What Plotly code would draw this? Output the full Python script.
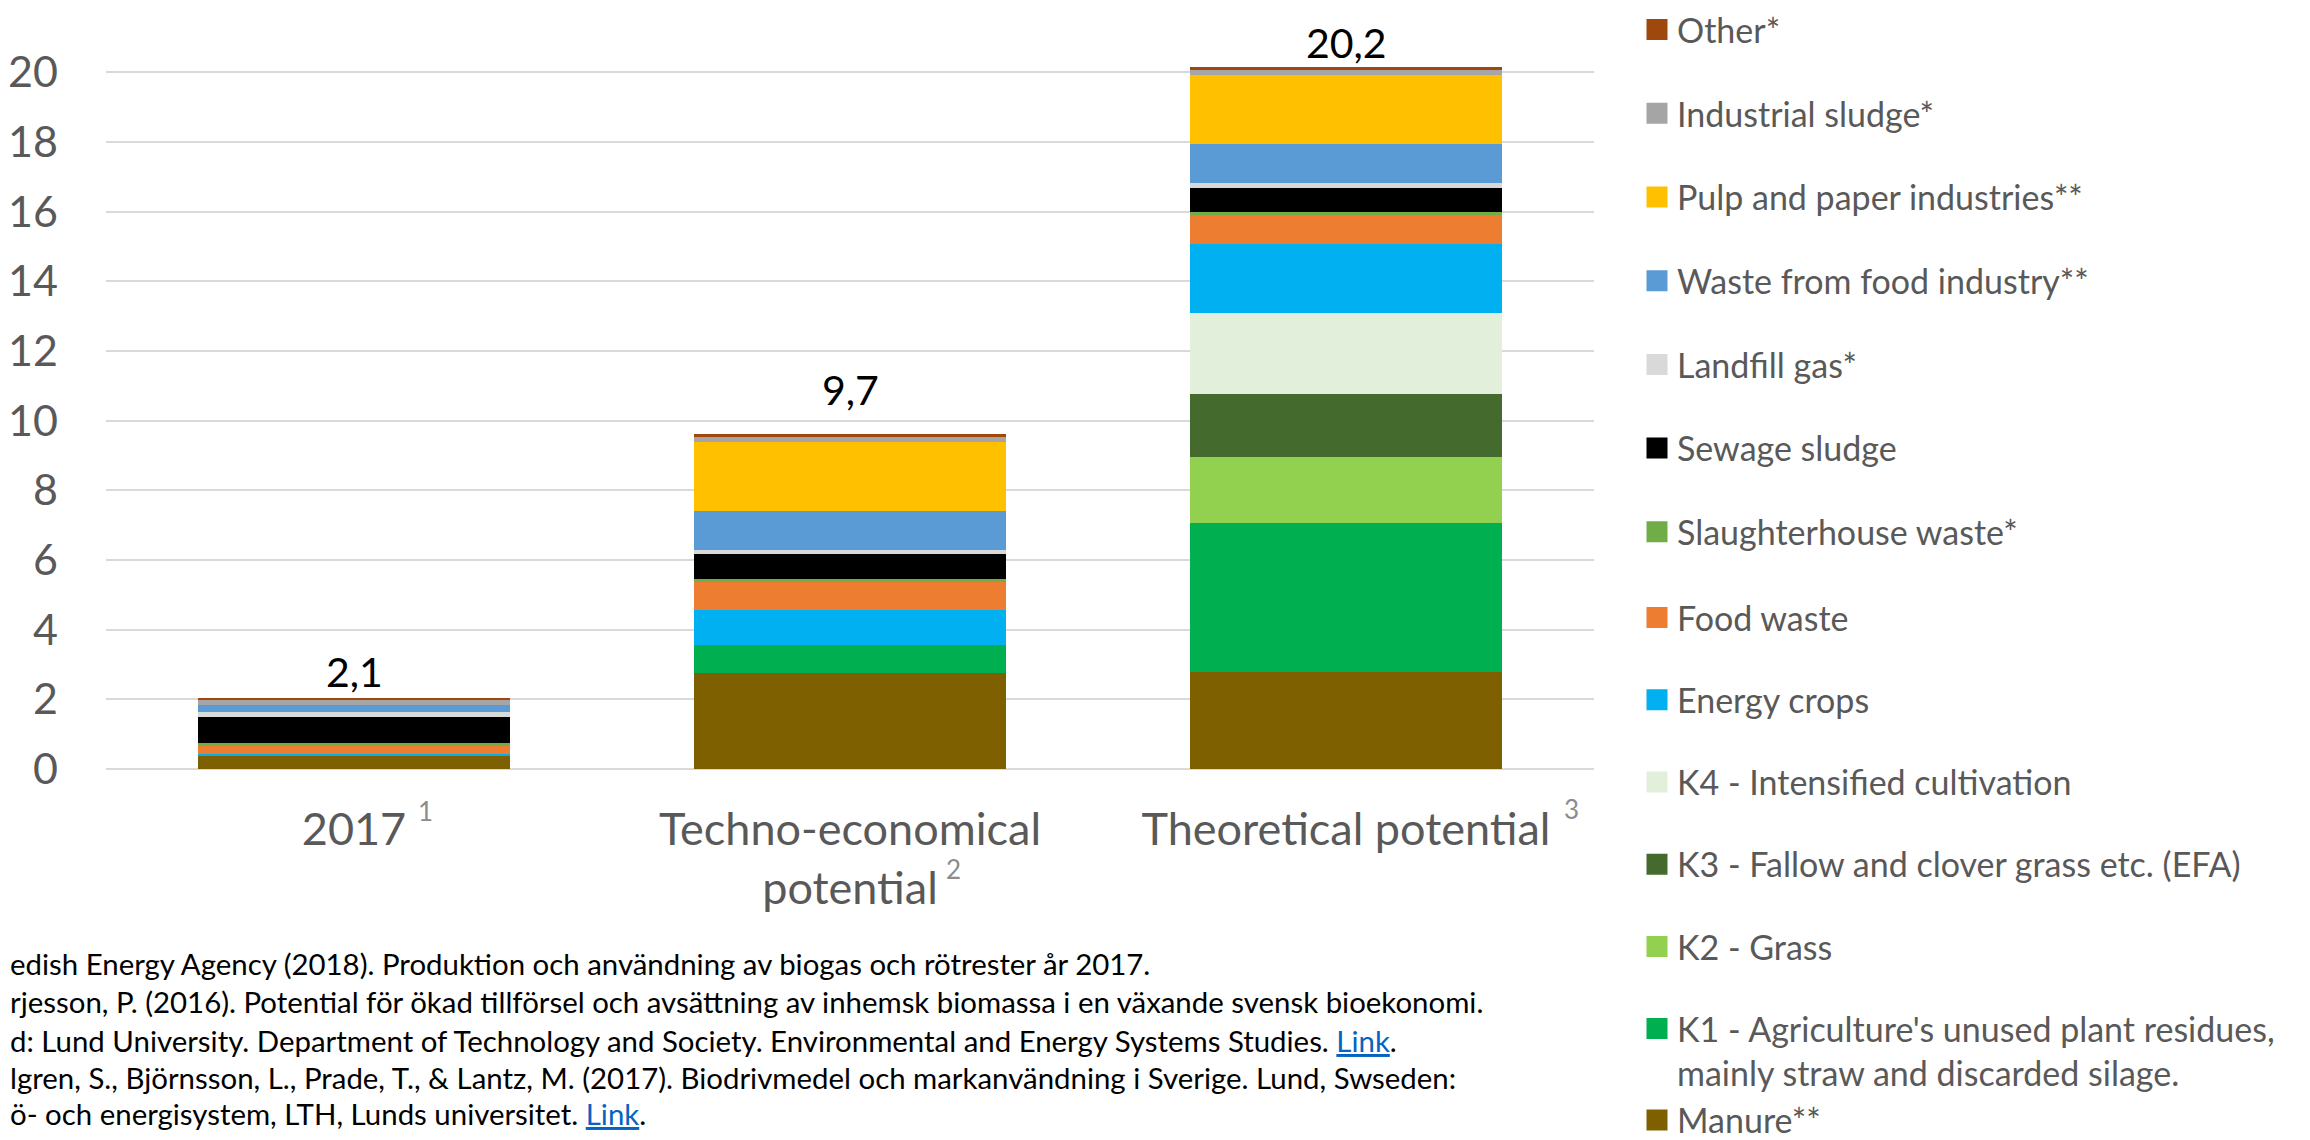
import plotly.graph_objects as go

# ---------------- data ----------------
categories = ["2017", "Techno-economical potential", "Theoretical potential"]
category_ticktext = ["2017", "Techno-economical<br>potential", "Theoretical potential"]
category_refs = ["1", "2", "3"]
total_labels = ["2,1", "9,7", "20,2"]

# stack order: bottom -> top
manure            = [0.38, 2.76, 2.78]
k1_residues       = [0.00, 0.80, 4.28]
k2_grass          = [0.00, 0.00, 1.89]
k3_fallow         = [0.00, 0.00, 1.81]
k4_intensified    = [0.00, 0.00, 2.32]
energy_crops      = [0.04, 1.00, 1.99]
food_waste        = [0.23, 0.81, 0.82]
slaughterhouse    = [0.11, 0.09, 0.10]
sewage_sludge     = [0.72, 0.70, 0.69]
landfill_gas      = [0.16, 0.14, 0.15]
food_industry     = [0.19, 1.10, 1.10]
pulp_paper        = [0.00, 2.00, 2.00]
industrial_sludge = [0.14, 0.13, 0.13]
other             = [0.07, 0.09, 0.09]

series_names = [
    "Manure**",
    "K1 - Agriculture's unused plant residues,<br>mainly straw and discarded silage.",
    "K2 - Grass",
    "K3 - Fallow and clover grass etc. (EFA)",
    "K4 - Intensified cultivation",
    "Energy crops",
    "Food waste",
    "Slaughterhouse waste*",
    "Sewage sludge",
    "Landfill gas*",
    "Waste from food industry**",
    "Pulp and paper industries**",
    "Industrial sludge*",
    "Other*",
]
series_values = [manure, k1_residues, k2_grass, k3_fallow, k4_intensified,
                 energy_crops, food_waste, slaughterhouse, sewage_sludge,
                 landfill_gas, food_industry, pulp_paper, industrial_sludge, other]
series_colors = ["#7F6000", "#00B050", "#92D050", "#456A2D", "#E2EFDA",
                 "#00B0F0", "#ED7D31", "#70AD47", "#000000", "#D9D9D9",
                 "#5B9BD5", "#FFC000", "#A5A5A5", "#9E480E"]

# footnotes, as far as they are visible in the picture (cut at the left edge)
footnote_lines = [
    "edish Energy Agency (2018). Produktion och användning av biogas och rötrester år 2017.",
    "rjesson, P. (2016). Potential för ökad tillförsel och avsättning av inhemsk biomassa i en växande svensk bioekonomi.",
    "d: Lund University. Department of Technology and Society. Environmental and Energy Systems Studies. "
    "<span style='color:#0563C1'><u>Link</u></span>.",
    "lgren, S., Björnsson, L., Prade, T., & Lantz, M. (2017). Biodrivmedel och markanvändning i Sverige. Lund, Swseden:",
    "ö- och energisystem, LTH, Lunds universitet. <span style='color:#0563C1'><u>Link</u></span>.",
]

FONT = "Lato"
GREY = "#595959"
OFF = 8                      # page body margin of the browser
W, H = 2310 - OFF, 1140 - OFF
ML, MR = 106 - OFF, 716
PW = W - ML - MR


def sx(px):
    """paper x from a screen pixel x"""
    return (px - OFF - ML) / PW


def sy(py):
    """paper y from a screen pixel y"""
    return (H - (py - OFF)) / H


fig = go.Figure()

# bars, bottom -> top
for i, (name, vals, col) in enumerate(zip(series_names, series_values, series_colors)):
    fig.add_trace(go.Bar(
        x=categories, y=vals, name=name, marker=dict(color=col, line=dict(width=0)),
        legendgroup="g%d" % (0 if i == 1 else i), showlegend=False, hoverinfo="skip",
    ))

# legend entries, top -> bottom (two stacked legend boxes)
for i in range(len(series_names) - 1, -1, -1):
    col = series_colors[i]
    fig.add_trace(go.Scatter(
        x=[None], y=[None], mode="markers", name=series_names[i],
        legendgroup="g%d" % (0 if i == 1 else i),
        legend="legend" if i >= 7 else "legend2",
        marker=dict(symbol="square", size=16, color=col, line=dict(color=col, width=5)),
        showlegend=True, hoverinfo="skip",
    ))

# totals above the bars
totals = [sum(v[i] for v in series_values) for i in range(len(categories))]
label_shift = [26, 44, 25]
for idx, (tot, lab, sh) in enumerate(zip(totals, total_labels, label_shift)):
    fig.add_annotation(
        x=idx, y=tot, xref="x", yref="y", text=lab, showarrow=False,
        yanchor="middle", yshift=sh,
        font=dict(family=FONT, size=41, color="#000000"),
    )

# reference numbers next to the category labels
ref_xshift = [71, 103, 225]
ref_py = [811, 869, 809]
for idx, (txt, xs, py) in enumerate(zip(category_refs, ref_xshift, ref_py)):
    fig.add_annotation(
        x=idx, xref="x", y=sy(py), yref="paper", text=txt, showarrow=False,
        xanchor="center", yanchor="middle", xshift=xs,
        font=dict(family=FONT, size=26, color="#8c8c8c"),
    )

legend_common = dict(
    xanchor="left", traceorder="grouped", valign="top",
    font=dict(family=FONT, size=34, color=GREY),
    bgcolor="rgba(0,0,0,0)", borderwidth=0,
)
fig.update_layout(
    width=W, height=H,
    barmode="stack", bargap=0.37,
    plot_bgcolor="white", paper_bgcolor="white",
    margin=dict(l=ML, r=MR, t=0, b=0, autoexpand=False),
    font=dict(family=FONT, color=GREY),
    showlegend=True,
    legend=dict(x=sx(1637), y=sy(561), yanchor="bottom", tracegroupgap=36.5, **legend_common),
    legend2=dict(x=sx(1637), y=sy(589), yanchor="top", tracegroupgap=35, **legend_common),
)

fig.update_yaxes(
    domain=[sy(769), sy(20)],
    range=[0, 21.5], dtick=2, tick0=0,
    showgrid=True, gridcolor="#D9D9D9", gridwidth=1.5,
    zeroline=True, zerolinecolor="#D9D9D9", zerolinewidth=1.5,
    showline=False, ticks="", automargin=False,
    tickfont=dict(family=FONT, size=43, color=GREY),
    ticklabelstandoff=47,
)
fig.update_xaxes(
    type="category", range=[-0.5, 2.5], autorange=False,
    tickmode="array", tickvals=categories, ticktext=category_ticktext,
    tickangle=0,
    showgrid=False, showline=False, ticks="", automargin=False,
    tickfont=dict(family=FONT, size=45, color=GREY),
    ticklabelstandoff=30,
)

line_py = [963, 1001, 1040, 1077, 1113]
for txt, py in zip(footnote_lines, line_py):
    fig.add_annotation(
        text=txt, xref="paper", yref="paper",
        x=sx(8), y=sy(py),
        xanchor="left", yanchor="middle", align="left", showarrow=False,
        font=dict(family=FONT, size=29.4, color="#000000"),
    )

fig.write_html("out.html")
